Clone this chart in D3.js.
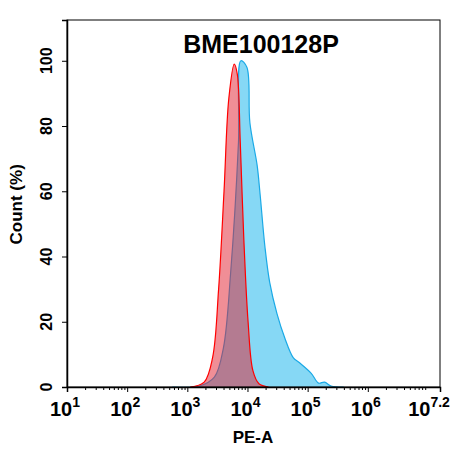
<!DOCTYPE html>
<html><head><meta charset="utf-8">
<script src="https://cdn.jsdelivr.net/npm/d3@7"></script>
<style>body{margin:0;background:#fff}text{font-family:"Liberation Sans",Arial,sans-serif;font-weight:bold}</style>
</head><body><div id="chart"></div>
<script>
// log10(PE-A) vs count %
const blueX = [2.75,3.2,3.45,3.6,3.72,3.85,3.89,3.99,4.04,4.16,4.21,4.29,4.37,4.49,4.62,4.76,4.86,5.06,5.18,5.28,5.39,5.6];
const blueY = [0,0.3,3,12,35,75,100,98,81,68,59,43,32,22.5,15,9,7.5,4.2,1.2,1.5,0.3,0];
const redX = [3.05,3.28,3.42,3.52,3.61,3.69,3.78,3.83,3.88,3.94,4.01,4.09,4.19,4.35];
const redY = [0,1.5,9,30,60,88.5,99,96,75,45,20,5,1,0];
const xTicks = [1,2,3,4,5,6,7.2];
const yTicks = [0,20,40,60,80,100];

const W = 452, H = 454;
const m = {left:67, right:12, top:20, bottom:67};
const svg = d3.select("#chart").append("svg").attr("width",W).attr("height",H);
const x = d3.scaleLinear().domain([1,7.2]).range([m.left, W-m.right]);
const y = d3.scaleLinear().domain([0,112.5]).range([H-m.bottom, m.top]);

const area = d3.area().x(d=>x(d[0])).y0(y(0)).y1(d=>y(d[1])).curve(d3.curveCatmullRom);
const line = d3.line().x(d=>x(d[0])).y(d=>y(d[1])).curve(d3.curveCatmullRom);
const blue = blueX.map((v,i)=>[v,blueY[i]]);
const red = redX.map((v,i)=>[v,redY[i]]);

svg.append("path").attr("d",area(blue)).attr("fill","#86d8f5");
svg.append("path").attr("d",line(blue)).attr("fill","none").attr("stroke","#1aa9e6").attr("stroke-width",1.2);
svg.append("path").attr("d",area(red)).attr("fill","rgb(225,30,45)").attr("fill-opacity",0.5);
svg.append("path").attr("d",line(red)).attr("fill","none").attr("stroke","#ff0000").attr("stroke-width",1.2);

// frame
svg.append("rect").attr("x",m.left).attr("y",m.top).attr("width",W-m.left-m.right).attr("height",H-m.top-m.bottom)
  .attr("fill","none").attr("stroke","#000").attr("stroke-width",1);

// x axis
const minor = [];
for (let d=1; d<7.2; d++) for (let k=2;k<=9;k++){ const v=d+Math.log10(k); if (v<7.2) minor.push(v); }
const xa = svg.append("g").attr("transform",`translate(0,${y(0)})`)
  .call(d3.axisBottom(x).tickValues(xTicks).tickSize(5).tickFormat(""));
xa.select(".domain").attr("stroke-width",1.5);
svg.append("g").attr("transform",`translate(0,${y(0)})`)
  .call(d3.axisBottom(x).tickValues(minor).tickSize(3).tickFormat("")).select(".domain").remove();
const lab = svg.append("g").selectAll("text").data(xTicks).join("text")
  .attr("x",d=>x(d)-(d===7.2?11:2)).attr("y",y(0)+29).attr("text-anchor","middle").attr("font-size",20);
lab.append("tspan").text("10");
lab.append("tspan").attr("dy",-9).attr("font-size",14).text(d=>d);

// y axis
const ya = svg.append("g").attr("transform",`translate(${m.left},0)`)
  .call(d3.axisLeft(y).tickValues(yTicks).tickSize(5).tickFormat(""));
ya.select(".domain").attr("stroke-width",1.5);
svg.append("g").selectAll("text").data(yTicks).join("text")
  .attr("transform",d=>`translate(${m.left-15},${y(d)}) rotate(-90)`)
  .attr("text-anchor","middle").attr("font-size",16).text(d=>d);

svg.append("text").attr("x",261).attr("y",53).attr("text-anchor","middle").attr("font-size",25).text("BME100128P");
svg.append("text").attr("x",253).attr("y",443).attr("text-anchor","middle").attr("font-size",17).text("PE-A");
svg.append("text").attr("transform",`translate(22,${y(56)}) rotate(-90)`).attr("text-anchor","middle").attr("font-size",17).text("Count (%)");
</script></body></html>
